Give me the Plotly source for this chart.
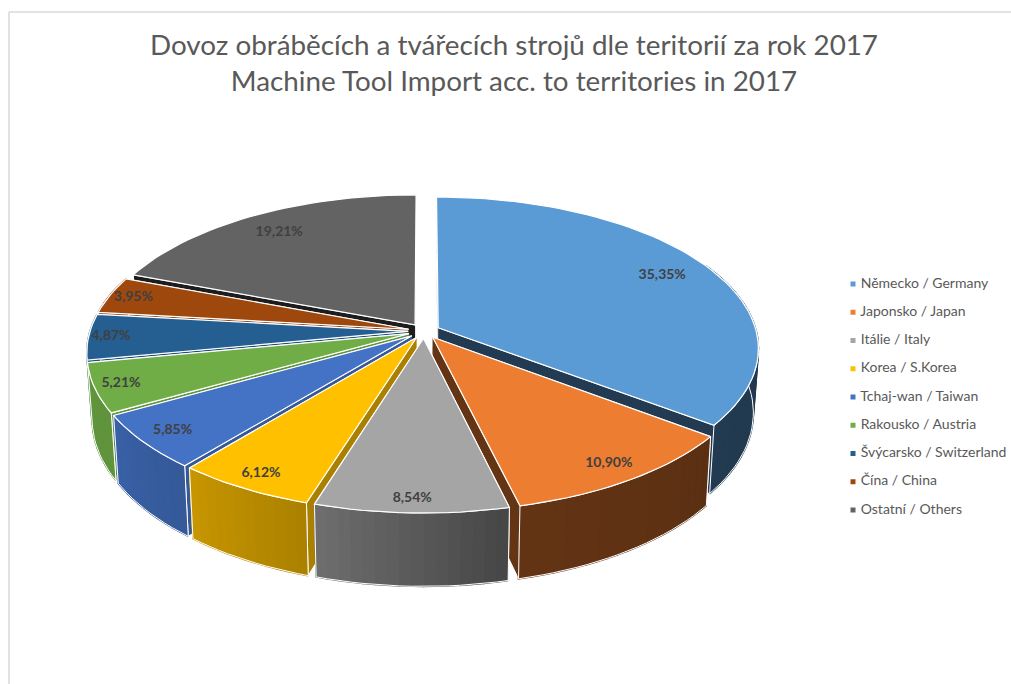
import numpy as np
import plotly.graph_objects as go

# ---- data ----
categories = ["Německo / Germany", "Japonsko / Japan", "Itálie / Italy", "Korea / S.Korea",
              "Tchaj-wan / Taiwan", "Rakousko / Austria", "Švýcarsko / Switzerland",
              "Čína / China", "Ostatní / Others"]
shares = [35.35, 10.90, 8.54, 6.12, 5.85, 5.21, 4.87, 3.95, 19.21]
colors = ["#5B9BD5", "#ED7D31", "#A5A5A5", "#FFC000", "#4472C4", "#70AD47", "#255E91", "#9E480E", "#636363"]
label_radius = [0.83, 0.90, 0.93, 0.91, 0.90, 0.92, 0.93, 0.92, 0.83]
title_lines = ["Dovoz obráběcích a tvářecích strojů dle teritorií za rok 2017",
               "Machine Tool Import acc. to territories in 2017"]

# ---- pseudo-3D projection of the pie plane onto the page ----
CX, CY, A, B, K, H0, SHRINK, EXPLODE = 424, 331, 318, 149, 0.134, 63, 0.985, 0.05


def proj(u, v, low=False):
    den = 1 - K * v
    x = A * u / den
    y = CY + B * v / den
    if low:
        x *= SHRINK
        y += H0 / den
    return CX + x, y


def shade(hex_color, f):
    r, g, b = (int(hex_color[i:i + 2], 16) for i in (1, 3, 5))
    return f"rgb({int(r * f)},{int(g * f)},{int(b * f)})"


def wall_factor(deg):
    return float(np.interp(deg, [120, 166, 197, 219, 240, 270], [0.38, 0.42, 0.67, 0.78, 0.85, 0.88]))


fig = go.Figure()


def poly(xs, ys, fill, line="white", width=1.0):
    fig.add_trace(go.Scatter(x=list(xs), y=list(ys), mode="lines", fill="toself", fillcolor=fill,
                             line=dict(color=line, width=width), hoverinfo="skip", showlegend=False))


total = sum(shares)
edges = np.cumsum([0] + shares) / total * 360
mids = (edges[:-1] + edges[1:]) / 2
order = np.argsort(-np.cos(np.radians(mids)))  # back to front

for i in order:
    a0, a1, mid = edges[i], edges[i + 1], mids[i]
    ou, ov = EXPLODE * np.sin(np.radians(mid)), -EXPLODE * np.cos(np.radians(mid))
    th = np.radians(np.linspace(a0, a1, max(8, int((a1 - a0) / 2) + 2)))
    ru, rv = ou + np.sin(th), ov - np.cos(th)
    col = colors[i]

    # radial walls, farther one first
    for ang in sorted([a0, a1], key=lambda t: -np.cos(np.radians(t))):
        eu, ev = ou + np.sin(np.radians(ang)), ov - np.cos(np.radians(ang))
        f = 0.3 if i == 8 else wall_factor(ang)
        pts = [proj(ou, ov), proj(eu, ev), proj(eu, ev, True), proj(ou, ov, True)]
        poly([p[0] for p in pts], [p[1] for p in pts], shade(col, f))

    # outer wall with stepped shading
    if np.cos(np.radians(a1)) < 0.35 or np.cos(np.radians(a0)) < 0.35:
        for j in range(len(th) - 1):
            am = np.degrees((th[j] + th[j + 1]) / 2)
            if np.cos(np.radians(am)) > 0.45:
                continue
            c = shade(col, wall_factor(am))
            t0, b0 = proj(ru[j], rv[j]), proj(ru[j], rv[j], True)
            t1, b1 = proj(ru[j + 1], rv[j + 1]), proj(ru[j + 1], rv[j + 1], True)
            poly([t0[0], t1[0], b1[0], b0[0]], [t0[1], t1[1], b1[1], b0[1]], c, line=c, width=1.6)
        keep = np.cos(th) <= 0.45
        if keep.sum() > 1:
            tx, ty = proj(ru[keep], rv[keep])
            bx, by = proj(ru[keep], rv[keep], True)
            fig.add_trace(go.Scatter(x=list(tx) + list(bx[::-1]) + [tx[0]], y=list(ty) + list(by[::-1]) + [ty[0]],
                                     mode="lines", line=dict(color="white", width=1.0),
                                     hoverinfo="skip", showlegend=False))

    # top face
    tx, ty = proj(np.r_[ou, ru, ou], np.r_[ov, rv, ov])
    poly(tx, ty, col, width=1.2)

# data labels
rad = np.array(label_radius) + EXPLODE
lx, ly = proj(rad * np.sin(np.radians(mids)), -rad * np.cos(np.radians(mids)))
fig.add_trace(go.Scatter(x=lx, y=ly, mode="text",
                         text=[f"{s:.2f}".replace(".", ",") + "%" for s in shares],
                         textfont=dict(family="Lato", size=14, color="#404040", weight="bold"),
                         hoverinfo="skip", showlegend=False))

# legend column
LEG_X, LEG_Y0, LEG_DY = 853, 284, 28.25
for i, (name, col) in enumerate(zip(categories, colors)):
    fig.add_trace(go.Scatter(x=[LEG_X], y=[LEG_Y0 + i * LEG_DY], mode="markers+text", name=name,
                             marker=dict(symbol="square", size=5, color=col),
                             text=[" " + name], textposition="middle right",
                             textfont=dict(family="Lato", size=14, color="#595959"),
                             hoverinfo="skip", showlegend=False))

fig.update_layout(
    width=1011, height=684, margin=dict(l=0, r=0, t=0, b=0),
    paper_bgcolor="white", plot_bgcolor="white", showlegend=False,
    title=dict(text="<br>".join(title_lines), x=514 / 1011, xanchor="center", y=1 - 55 / 684, yanchor="top",
               font=dict(family="Lato", size=27.8, color="#595959")),
    xaxis=dict(range=[0, 1011], visible=False),
    yaxis=dict(range=[684, 0], visible=False),
    shapes=[
        dict(type="line", xref="paper", yref="paper", x0=9 / 1011, x1=1, y0=1 - 12 / 684, y1=1 - 12 / 684,
             line=dict(color="#d9d9d9", width=1.5)),
        dict(type="line", xref="paper", yref="paper", x0=9 / 1011, x1=9 / 1011, y0=0, y1=1 - 12 / 684,
             line=dict(color="#d9d9d9", width=1.5)),
    ],
)
fig.write_html("out.html", post_script="document.body.style.margin='0';",
               config=dict(displayModeBar=False))
